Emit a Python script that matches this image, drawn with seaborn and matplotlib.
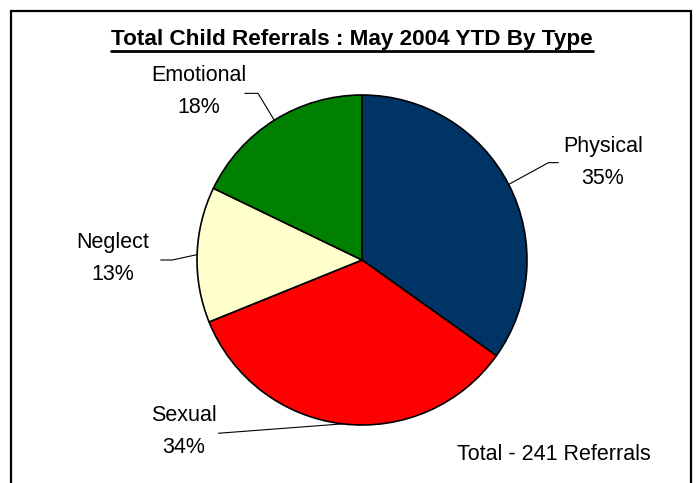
import numpy as np
import matplotlib
matplotlib.use("Agg")
import matplotlib.pyplot as plt
import seaborn as sns

# referral counts by type (total 241)
categories = ['Physical', 'Sexual', 'Neglect', 'Emotional']
counts = [84, 82, 32, 43]
colors = ['#003366', '#FF0000', '#FFFFCC', '#008000']

TITLE = 'Total Child Referrals : May 2004 YTD By Type'
TOTAL_NOTE = 'Total - 241 Referrals'

# label layout in pie units (radius = 1): text centre, leader knee, leader end
label_pos = {
    'Physical': (1.46, 0.59),
    'Sexual': (-1.08, -1.04),
    'Neglect': (-1.51, 0.01),
    'Emotional': (-0.99, 1.02),
}
leader_knee = {
    'Physical': [(1.13, 0.59), (1.19, 0.59)],
    'Sexual': [(-0.87, -1.05)],
    'Neglect': [(-1.15, 0.0), (-1.22, 0.0)],
    'Emotional': [(-0.63, 1.01), (-0.71, 1.01)],
}

sns.set_theme(style='white')
plt.rcParams['font.family'] = ['Liberation Sans', 'DejaVu Sans']
plt.rcParams['text.color'] = 'black'

W, H = 696, 483
fig = plt.figure(figsize=(W / 100, H / 100), dpi=100)

# pie centre and radius in pixels
cx, cy, r = 362, 260, 165
ax = fig.add_axes([(cx - r) / W, 1 - (cy + r) / H, 2 * r / W, 2 * r / H])
wedges, _ = ax.pie(counts, colors=colors, startangle=90, counterclock=False,
                   wedgeprops=dict(edgecolor='black', linewidth=1.2))
ax.set_xlim(-1, 1)
ax.set_ylim(-1, 1)
ax.set_aspect('equal')
ax.axis('off')

total = sum(counts)
for w, cat, n in zip(wedges, categories, counts):
    mid = np.deg2rad((w.theta1 + w.theta2) / 2)
    edge = (np.cos(mid), np.sin(mid))
    pts = [edge] + leader_knee[cat]
    xs, ys = zip(*pts)
    ax.plot(xs, ys, color='black', lw=0.8, clip_on=False)
    tx, ty = label_pos[cat]
    ax.text(tx, ty, f'{cat}\n{round(100 * n / total)}%', ha='center', va='center',
            multialignment='center', fontsize=15.5, linespacing=1.65,
            color='black', clip_on=False)

ax.text(1.16, -1.18, TOTAL_NOTE, ha='center', va='center', fontsize=15.5,
        color='black', clip_on=False)

# title with underline
title = fig.text(352 / W, 1 - 39 / H, TITLE, ha='center', va='center',
                 fontsize=16.2, fontweight='bold', color='black')
fig.canvas.draw()
bb = title.get_window_extent()
uy = (bb.y0 - 1) / H
fig.add_artist(plt.Line2D([bb.x0 / W, bb.x1 / W], [uy, uy], color='black',
                          lw=2, transform=fig.transFigure))

# outer frame (bottom edge lies below the image)
fig.add_artist(plt.Rectangle((11 / W, -0.05), 680 / W, 1 - 11 / H + 0.05,
                             fill=False, edgecolor='black', lw=1.6,
                             transform=fig.transFigure, clip_on=False))

fig.savefig('out.png', dpi=100)
